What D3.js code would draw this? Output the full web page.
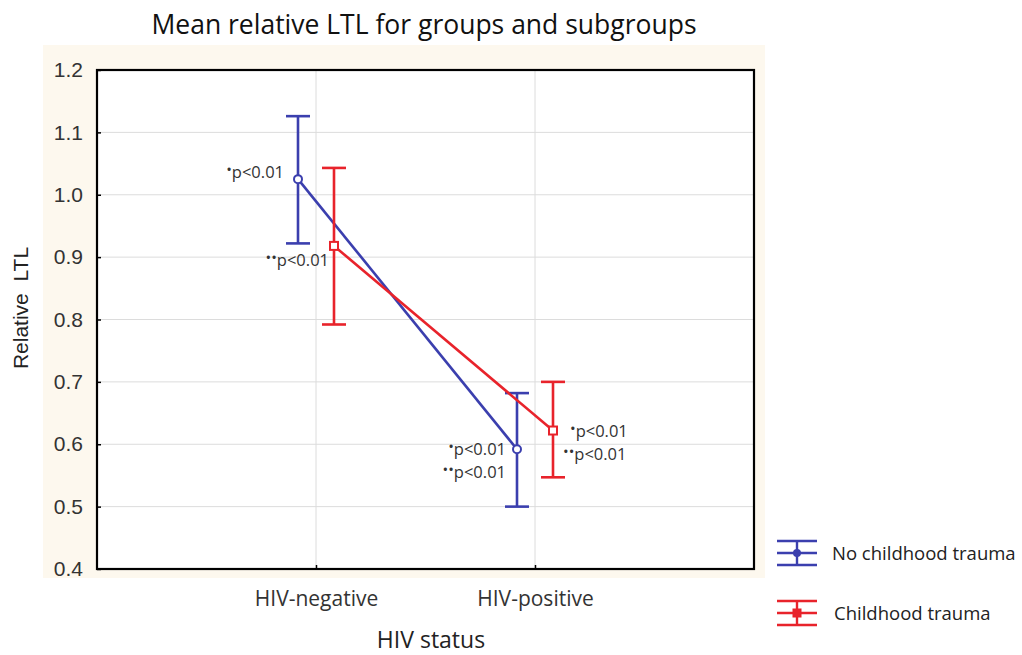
<!DOCTYPE html>
<html><head><meta charset="utf-8">
<script src="https://cdn.jsdelivr.net/npm/d3@7"></script>
<style>body{margin:0;background:#fff}</style>
</head><body>
<svg id="c" width="1022" height="655"></svg>
<script>
const categories = ["HIV-negative", "HIV-positive"];
const seriesNames = ["No childhood trauma", "Childhood trauma"];
const noTraumaMean = [1.025, 0.592];
const noTraumaLow = [0.922, 0.500];
const noTraumaHigh = [1.126, 0.682];
const traumaMean = [0.918, 0.622];
const traumaLow = [0.792, 0.547];
const traumaHigh = [1.043, 0.700];
const yTicks = [0.4, 0.5, 0.6, 0.7, 0.8, 0.9, 1.0, 1.1, 1.2];
const annotations = [
  {series: 0, cat: 0, stars: "•", text: "p<0.01", dx: -14, dy: -1},
  {series: 1, cat: 0, stars: "••", text: "p<0.01", dx: -5, dy: 20},
  {series: 0, cat: 1, stars: "•", text: "p<0.01", dx: -11, dy: 6},
  {series: 0, cat: 1, stars: "••", text: "p<0.01", dx: -11, dy: 29},
  {series: 1, cat: 1, stars: "•", text: "p<0.01", dx: 17, dy: 6},
  {series: 1, cat: 1, stars: "••", text: "p<0.01", dx: 10, dy: 29}
];

const colors = ["#3b3fae", "#e8232b"];
const svg = d3.select("#c");
const L = 97, R = 754, T = 70, B = 569;

// cream background
svg.append("rect").attr("x", 43).attr("y", 45).attr("width", 722).attr("height", 533).attr("fill", "#fdf8ee");
svg.append("rect").attr("x", L).attr("y", T).attr("width", R - L).attr("height", B - T).attr("fill", "#fff");

const x = d3.scalePoint().domain(categories).range([L, R]).padding(1);
const y = d3.scaleLinear().domain([0.4, 1.2]).range([B, T]);
const offsets = [-18, 18];

// grid
svg.append("g").selectAll("line").data(yTicks.slice(1, -1)).join("line")
  .attr("x1", L).attr("x2", R).attr("y1", d => y(d)).attr("y2", d => y(d))
  .attr("stroke", "#dcdcdc").attr("stroke-width", 1);
svg.append("g").selectAll("line").data(categories).join("line")
  .attr("x1", d => x(d)).attr("x2", d => x(d)).attr("y1", T).attr("y2", B)
  .attr("stroke", "#dcdcdc").attr("stroke-width", 1);

// y axis
const yAxis = svg.append("g").attr("transform", `translate(${L},0)`)
  .call(d3.axisLeft(y).tickValues(yTicks).tickFormat(d3.format(".1f")).tickSize(-4).tickPadding(14));
yAxis.select(".domain").remove();
yAxis.selectAll("line").attr("stroke", "#000").attr("stroke-width", 1.5);
yAxis.selectAll("text").attr("font-family", "Liberation Sans, Arial, sans-serif").attr("font-size", 21).attr("fill", "#333");

// x axis
const xAxis = svg.append("g").attr("transform", `translate(0,${B})`)
  .call(d3.axisBottom(x).tickSize(-4).tickPadding(22));
xAxis.select(".domain").remove();
xAxis.selectAll("line").attr("stroke", "#000").attr("stroke-width", 1.5);
xAxis.selectAll("text").attr("font-family", "Open Sans, sans-serif").attr("font-size", 21).attr("fill", "#333");

// frame
svg.append("rect").attr("x", L).attr("y", T).attr("width", R - L).attr("height", B - T)
  .attr("fill", "none").attr("stroke", "#000").attr("stroke-width", 2.2);

const series = [
  {mean: noTraumaMean, low: noTraumaLow, high: noTraumaHigh},
  {mean: traumaMean, low: traumaLow, high: traumaHigh}
];

series.forEach((s, i) => {
  const c = colors[i];
  const px = categories.map(k => x(k) + offsets[i]);
  const g = svg.append("g");
  g.append("path").datum(categories.map((k, j) => [px[j], y(s.mean[j])]))
    .attr("d", d3.line()).attr("fill", "none").attr("stroke", c).attr("stroke-width", 2.6);
  categories.forEach((k, j) => {
    g.append("line").attr("x1", px[j]).attr("x2", px[j]).attr("y1", y(s.low[j])).attr("y2", y(s.high[j]))
      .attr("stroke", c).attr("stroke-width", 2.6);
    [s.low[j], s.high[j]].forEach(v => {
      g.append("line").attr("x1", px[j] - 12).attr("x2", px[j] + 12).attr("y1", y(v)).attr("y2", y(v))
        .attr("stroke", c).attr("stroke-width", 2.6);
    });
    if (i === 0) {
      g.append("circle").attr("cx", px[j]).attr("cy", y(s.mean[j])).attr("r", 4)
        .attr("fill", "#fff").attr("stroke", c).attr("stroke-width", 2);
    } else {
      g.append("rect").attr("x", px[j] - 4).attr("y", y(s.mean[j]) - 4).attr("width", 8).attr("height", 8)
        .attr("fill", "#fff").attr("stroke", c).attr("stroke-width", 2);
    }
  });
});

// annotations
annotations.forEach(a => {
  const s = series[a.series];
  const px = x(categories[a.cat]) + offsets[a.series];
  const py = y(s.mean[a.cat]);
  const t = svg.append("text")
    .attr("x", px + a.dx).attr("y", py + a.dy)
    .attr("text-anchor", a.dx < 0 ? "end" : "start")
    .attr("font-family", "Open Sans, sans-serif").attr("font-size", 16.5).attr("fill", "#333");
  t.append("tspan").attr("font-size", 15).attr("dy", -3).text(a.stars);
  t.append("tspan").attr("dy", 3).text(a.text);
});

// titles
svg.append("text").attr("x", 424).attr("y", 34).attr("text-anchor", "middle")
  .attr("font-family", "Open Sans, sans-serif").attr("font-size", 26.5).attr("fill", "#111")
  .text("Mean relative LTL for groups and subgroups");
svg.append("text").attr("x", 431).attr("y", 648).attr("text-anchor", "middle")
  .attr("font-family", "Open Sans, sans-serif").attr("font-size", 23).attr("fill", "#222")
  .text("HIV status");
svg.append("text").attr("transform", "translate(28,308) rotate(-90)").attr("text-anchor", "middle")
  .attr("font-family", "Liberation Sans, Arial, sans-serif").attr("font-size", 21).attr("fill", "#222")
  .attr("xml:space", "preserve").text("Relative  LTL");

// legend
const lg = svg.append("g");
seriesNames.forEach((n, i) => {
  const cy = 553 + i * 60;
  const cx = 797;
  const c = colors[i];
  const row = lg.append("g");
  [-12, 0, 12].forEach(d => row.append("line").attr("x1", cx - 20).attr("x2", cx + 20).attr("y1", cy + d).attr("y2", cy + d)
    .attr("stroke", c).attr("stroke-width", 2.4));
  row.append("line").attr("x1", cx).attr("x2", cx).attr("y1", cy - 12).attr("y2", cy + 12).attr("stroke", c).attr("stroke-width", 2.4);
  if (i === 0) row.append("circle").attr("cx", cx).attr("cy", cy).attr("r", 4).attr("fill", c);
  else row.append("rect").attr("x", cx - 4).attr("y", cy - 4).attr("width", 8).attr("height", 8).attr("fill", c).attr("stroke", c);
  row.append("text").attr("x", 832 + i * 2).attr("y", cy + 7)
    .attr("font-family", "Open Sans, sans-serif").attr("font-size", 18.5).attr("fill", "#222").text(n);
});
</script>
</body></html>
